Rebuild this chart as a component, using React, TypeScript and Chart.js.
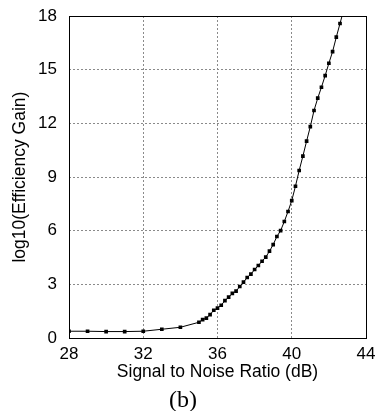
import { useEffect, useRef } from "react";
import { Chart, registerables } from "chart.js";

Chart.register(...registerables);

const snr = [
  28, 29, 30, 31, 32, 33, 34, 35, 35.2, 35.4, 35.6, 35.8, 36, 36.2, 36.4, 36.6,
  36.8, 37, 37.2, 37.4, 37.6, 37.8, 38, 38.2, 38.4, 38.6, 38.8, 39, 39.2, 39.4,
  39.6, 39.8, 40, 40.2, 40.4, 40.6, 40.8, 41, 41.2, 41.4, 41.6, 41.8, 42, 42.2,
  42.4, 42.6, 42.8,
];
const gain = [
  0.39, 0.39, 0.37, 0.37, 0.39, 0.5, 0.61, 0.89, 1.04, 1.12, 1.32, 1.56, 1.68,
  1.84, 2.1, 2.29, 2.5, 2.63, 2.89, 3.13, 3.39, 3.58, 3.84, 4.06, 4.3, 4.53,
  4.86, 5.23, 5.68, 6.01, 6.52, 7.08, 7.69, 8.49, 9.37, 10.17, 11.01, 11.82,
  12.72, 13.41, 14.02, 14.67, 15.36, 16.01, 16.82, 17.58, 18.35,
];
const xTicks = [28, 32, 36, 40, 44];
const yTicks = [0, 3, 6, 9, 12, 15, 18];

const xTitle = "Signal to Noise Ratio (dB)";
const yTitle = "log10(Efficiency Gain)";
const caption = "(b)";

const sans = "'Liberation Sans', Arial, sans-serif";

const framePlugin = {
  id: "frame",
  afterDatasetsDraw(chart: any) {
    const { ctx, chartArea } = chart;
    ctx.save();
    ctx.strokeStyle = "#000";
    ctx.lineWidth = 1;
    ctx.setLineDash([]);
    ctx.strokeRect(
      Math.round(chartArea.left) + 0.5,
      Math.round(chartArea.top) + 0.5,
      Math.round(chartArea.right - chartArea.left),
      Math.round(chartArea.bottom - chartArea.top)
    );
    ctx.restore();
  },
};

export default function App() {
  const ref = useRef<HTMLCanvasElement | null>(null);

  useEffect(() => {
    if (!ref.current) return;
    const chart = new Chart(ref.current, {
      type: "line",
      data: {
        datasets: [
          {
            data: snr.map((x, i) => ({ x, y: gain[i] })),
            borderColor: "#000",
            backgroundColor: "#000",
            borderWidth: 1,
            pointStyle: "rect",
            pointRadius: 2.6,
            pointBorderWidth: 0,
            pointBackgroundColor: "#000",
            tension: 0,
            fill: false,
          },
        ],
      },
      options: {
        animation: false,
        responsive: false,
        layout: { padding: { left: 0, right: 9, top: 16, bottom: 0 } },
        plugins: {
          legend: { display: false },
          tooltip: { enabled: false },
          title: {
            display: true,
            text: caption,
            position: "bottom",
            color: "#000",
            font: { family: "'Liberation Serif', 'Times New Roman', serif", size: 24, weight: "normal" },
            padding: { top: 4, bottom: -4 },
          },
        },
        scales: {
          x: {
            type: "linear",
            min: 28,
            max: 44,
            afterBuildTicks: (s: any) => {
              s.ticks = xTicks.map((v) => ({ value: v }));
            },
            afterFit: (s: any) => {
              s.height = 44;
              s.paddingLeft = 0;
              s.paddingRight = 0;
            },
            ticks: {
              color: "#000",
              font: { family: sans, size: 17 },
              padding: 6,
              maxRotation: 0,
            },
            grid: {
              color: "#8a8a8a",
              lineWidth: 1,
              drawTicks: false,
              borderDash: [2, 2],
            },
            border: { display: false, dash: [2, 2] },
            title: {
              display: true,
              text: xTitle,
              color: "#000",
              font: { family: sans, size: 17.5 },
              padding: { top: 0, bottom: 0 },
            },
          },
          y: {
            type: "linear",
            min: 0,
            max: 18,
            afterBuildTicks: (s: any) => {
              s.ticks = yTicks.map((v) => ({ value: v }));
            },
            afterFit: (s: any) => {
              s.width = 69;
              s.paddingTop = 0;
              s.paddingBottom = 0;
            },
            ticks: {
              color: "#000",
              font: { family: sans, size: 17 },
              padding: 12,
            },
            grid: {
              color: "#8a8a8a",
              lineWidth: 1,
              drawTicks: false,
              borderDash: [2, 2],
            },
            border: { display: false, dash: [2, 2] },
            title: {
              display: true,
              text: yTitle,
              color: "#000",
              font: { family: sans, size: 17.5 },
              padding: { top: 10, bottom: 0 },
            },
          },
        },
      },
      plugins: [framePlugin],
    });
    return () => chart.destroy();
  }, []);

  return (
    <div style={{ position: "absolute", left: 0, top: 0, width: 375, height: 411 }}>
      <canvas ref={ref} width={375} height={411} style={{ display: "block" }} />
    </div>
  );
}
